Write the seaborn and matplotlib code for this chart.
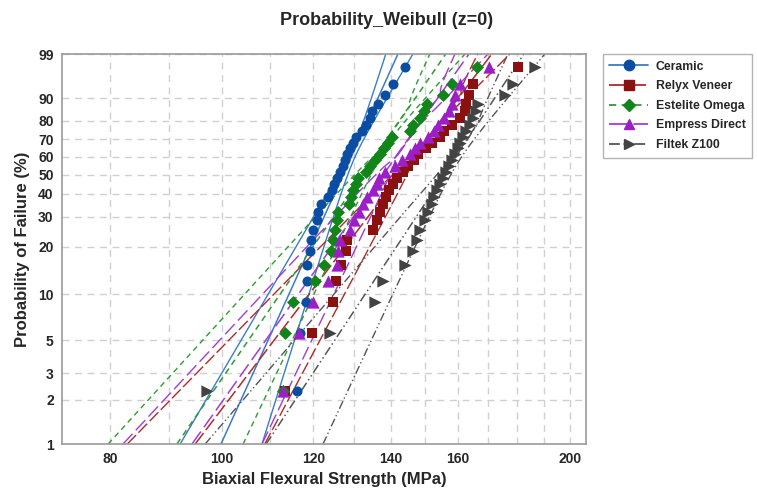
import numpy as np
import pandas as pd
import matplotlib
matplotlib.use("Agg")
import matplotlib.pyplot as plt
from matplotlib.lines import Line2D
import seaborn as sns

# ---- data (MPa), sorted, n = 30 per group ----
GROUPS = ["Ceramic", "Relyx Veneer", "Estelite Omega", "Empress Direct", "Filtek Z100"]

ceramic = [116.1, 116.8, 118.4, 118.2, 118.4, 119.2, 119.4, 119.9, 120.8, 121.1,
           121.8, 123.5, 124.5, 125.0, 125.7, 126.5, 127.3, 127.8, 128.3, 129.0,
           129.8, 130.6, 132.2, 133.2, 134.3, 134.8, 136.4, 138.4, 140.6, 144.0]
relyx = [113.4, 119.6, 124.8, 125.5, 126.8, 128.0, 128.3, 135.0, 136.2, 137.0,
         137.8, 138.7, 139.5, 140.6, 141.7, 143.4, 144.8, 146.6, 147.7, 150.1,
         152.0, 154.4, 155.7, 158.1, 160.7, 162.3, 162.6, 163.6, 164.9, 180.3]
estelite = [112.9, 113.4, 115.2, 120.4, 122.5, 124.3, 124.8, 125.3, 125.7, 126.0,
            128.8, 129.3, 129.8, 130.6, 131.1, 133.2, 134.3, 135.6, 137.0, 138.1,
            139.2, 140.3, 145.4, 146.3, 148.4, 149.5, 150.4, 155.3, 158.1, 166.2]
empress = [112.9, 116.6, 119.9, 123.5, 125.7, 126.0, 126.5, 129.1, 130.1, 131.4,
           132.4, 133.5, 135.1, 136.2, 136.7, 138.4, 141.1, 143.1, 145.4, 146.9,
           148.4, 150.8, 152.6, 153.8, 155.7, 157.2, 158.1, 159.0, 160.7, 170.2]
filtek = [97.1, 124.0, 135.6, 137.8, 144.0, 146.3, 147.5, 148.4, 149.8, 150.7,
          152.0, 152.6, 153.5, 154.4, 155.3, 156.2, 157.2, 158.1, 159.0, 160.0,
          160.7, 161.6, 162.6, 163.9, 164.9, 165.9, 166.6, 175.7, 178.5, 186.5]

# fitted Weibull line: strength at 1% and 99% failure
fit_lo = [99.8, 94.8, 91.4, 94.2, 109.2]
fit_hi = [142.0, 171.2, 156.2, 163.6, 182.5]
# 95% confidence bounds: strength at 1%, 50%, 99% failure
lower_ci = [[92.0, 126.0, 138.6], [82.8, 140.6, 166.5], [79.7, 130.3, 151.3],
            [82.1, 135.9, 159.1], [96.7, 153.5, 176.8]]
upper_ci = [[108.3, 128.5, 146.3], [108.9, 144.6, 177.5], [104.3, 134.6, 162.3],
            [108.3, 139.8, 169.9], [122.3, 157.8, 190.3]]

P_TICKS = [1, 2, 3, 5, 10, 20, 30, 40, 50, 60, 70, 80, 90, 99]
X_TICKS = [80, 100, 120, 140, 160, 200]
X_GRID = [80, 90, 100, 110, 120, 130, 140, 150, 160, 170, 180, 190, 200]

# ---- styles ----
MARKERS = ["o", "s", "D", "^", ">"]
MARK_COL = ["#0B4DA2", "#8B1111", "#12851A", "#9B1EC6", "#434343"]
LINE_COL = ["#3A7CC8", "#B02A2A", "#2E9A35", "#A43BD4", "#555555"]
LINE_STY = ["-", (0, (9, 2.5)), (0, (4, 3)), (0, (10, 3.5)), (0, (6, 2, 1, 2, 1, 2))]
MSIZE = [52, 60, 44, 78, 78]


def wb(p):
    p = np.clip(np.asarray(p, dtype=float), 1e-6, 100 - 1e-6) / 100.0
    return np.log(-np.log(1 - p))


def wb_inv(w):
    return 100.0 * (1 - np.exp(-np.exp(w)))


sns.set_theme(style="white")
plt.rcParams["font.family"] = ["Liberation Sans", "DejaVu Sans"]

fig = plt.figure(figsize=(7.57, 4.91), dpi=100)
ax = fig.add_axes([0.0819, 0.0957, 0.692, 0.7943])
ax.set_xscale("log")
ax.set_yscale("function", functions=(wb, wb_inv))

# points: median rank plotting positions
frames = []
for name, vals in zip(GROUPS, [ceramic, relyx, estelite, empress, filtek]):
    v = np.sort(np.asarray(vals))
    n = len(v)
    rank = np.arange(1, n + 1)
    frames.append(pd.DataFrame({"group": name, "strength": v,
                                "prob": (rank - 0.3) / (n + 0.4) * 100}))
df = pd.concat(frames, ignore_index=True)

# fitted lines and confidence bounds (variance of log percentile is quadratic in w)
w_ends = wb([1, 99])
w_grid = np.linspace(w_ends[0], w_ends[1], 300)
w_knots = wb([1, 50, 99])
for i in range(len(GROUPS)):
    lfit = lambda w: np.interp(w, w_ends, np.log([fit_lo[i], fit_hi[i]]))
    ax.plot(np.exp(lfit(w_grid)), wb_inv(w_grid), color=LINE_COL[i], ls=LINE_STY[i],
            lw=1.1, zorder=2)
    for ci, sgn in ((lower_ci[i], -1), (upper_ci[i], 1)):
        half = np.abs(np.log(ci) - lfit(w_knots))
        coef = np.polyfit(w_knots, half ** 2, 2)
        h = np.sqrt(np.clip(np.polyval(coef, w_grid), 1e-6, None))
        ax.plot(np.exp(lfit(w_grid) + sgn * h), wb_inv(w_grid),
                color=LINE_COL[i], ls=LINE_STY[i], lw=1.0, zorder=2)

for i, name in enumerate(GROUPS):
    sub = df[df["group"] == name]
    sns.scatterplot(data=sub, x="strength", y="prob", marker=MARKERS[i],
                    color=MARK_COL[i], s=MSIZE[i], linewidth=0, ax=ax, zorder=3,
                    legend=False)

ax.set_xlim(72.7, 206.5)
ax.set_ylim(1, 99)
ax.set_xticks(X_GRID, minor=False)
ax.set_xticks([], minor=True)
ax.set_xticklabels([str(t) if t in X_TICKS else "" for t in X_GRID])
ax.set_yticks(P_TICKS)
ax.set_yticks([], minor=True)
ax.set_yticklabels([str(t) for t in P_TICKS])

ax.grid(True, which="major", color="#D0D0D0", ls=(0, (5, 4)), lw=1.0)
ax.tick_params(axis="both", which="major", labelsize=10, length=3, width=0.8,
               color="#808080", pad=3)
ax.tick_params(axis="x", length=0, pad=6)
for lab in ax.get_xticklabels() + ax.get_yticklabels():
    lab.set_fontweight("bold")
for sp in ax.spines.values():
    sp.set_color("#9A9A9A")
    sp.set_linewidth(1.2)

ax.set_xlabel("Biaxial Flexural Strength (MPa)", fontsize=12, fontweight="bold", labelpad=4)
ax.set_ylabel("Probability of Failure (%)", fontsize=12, fontweight="bold", labelpad=6)
fig.suptitle("Probability_Weibull (z=0)", fontsize=13, fontweight="bold", x=0.51, y=0.975)

handles = [Line2D([0], [0], color=LINE_COL[i], ls=LINE_STY[i], lw=1.3,
                  marker=MARKERS[i], markersize=7.5 if MARKERS[i] != "D" else 6.5,
                  markerfacecolor=MARK_COL[i], markeredgecolor=MARK_COL[i])
           for i in range(len(GROUPS))]
leg = ax.legend(handles, GROUPS, loc="upper left", bbox_to_anchor=(1.032, 1.0),
                frameon=True, fancybox=False, edgecolor="#A0A0A0", fontsize=8.8,
                handlelength=3.2, borderpad=0.55, labelspacing=0.62, handletextpad=0.6,
                borderaxespad=0)
for t in leg.get_texts():
    t.set_fontweight("bold")

fig.savefig("out.png", dpi=100, facecolor="white")
